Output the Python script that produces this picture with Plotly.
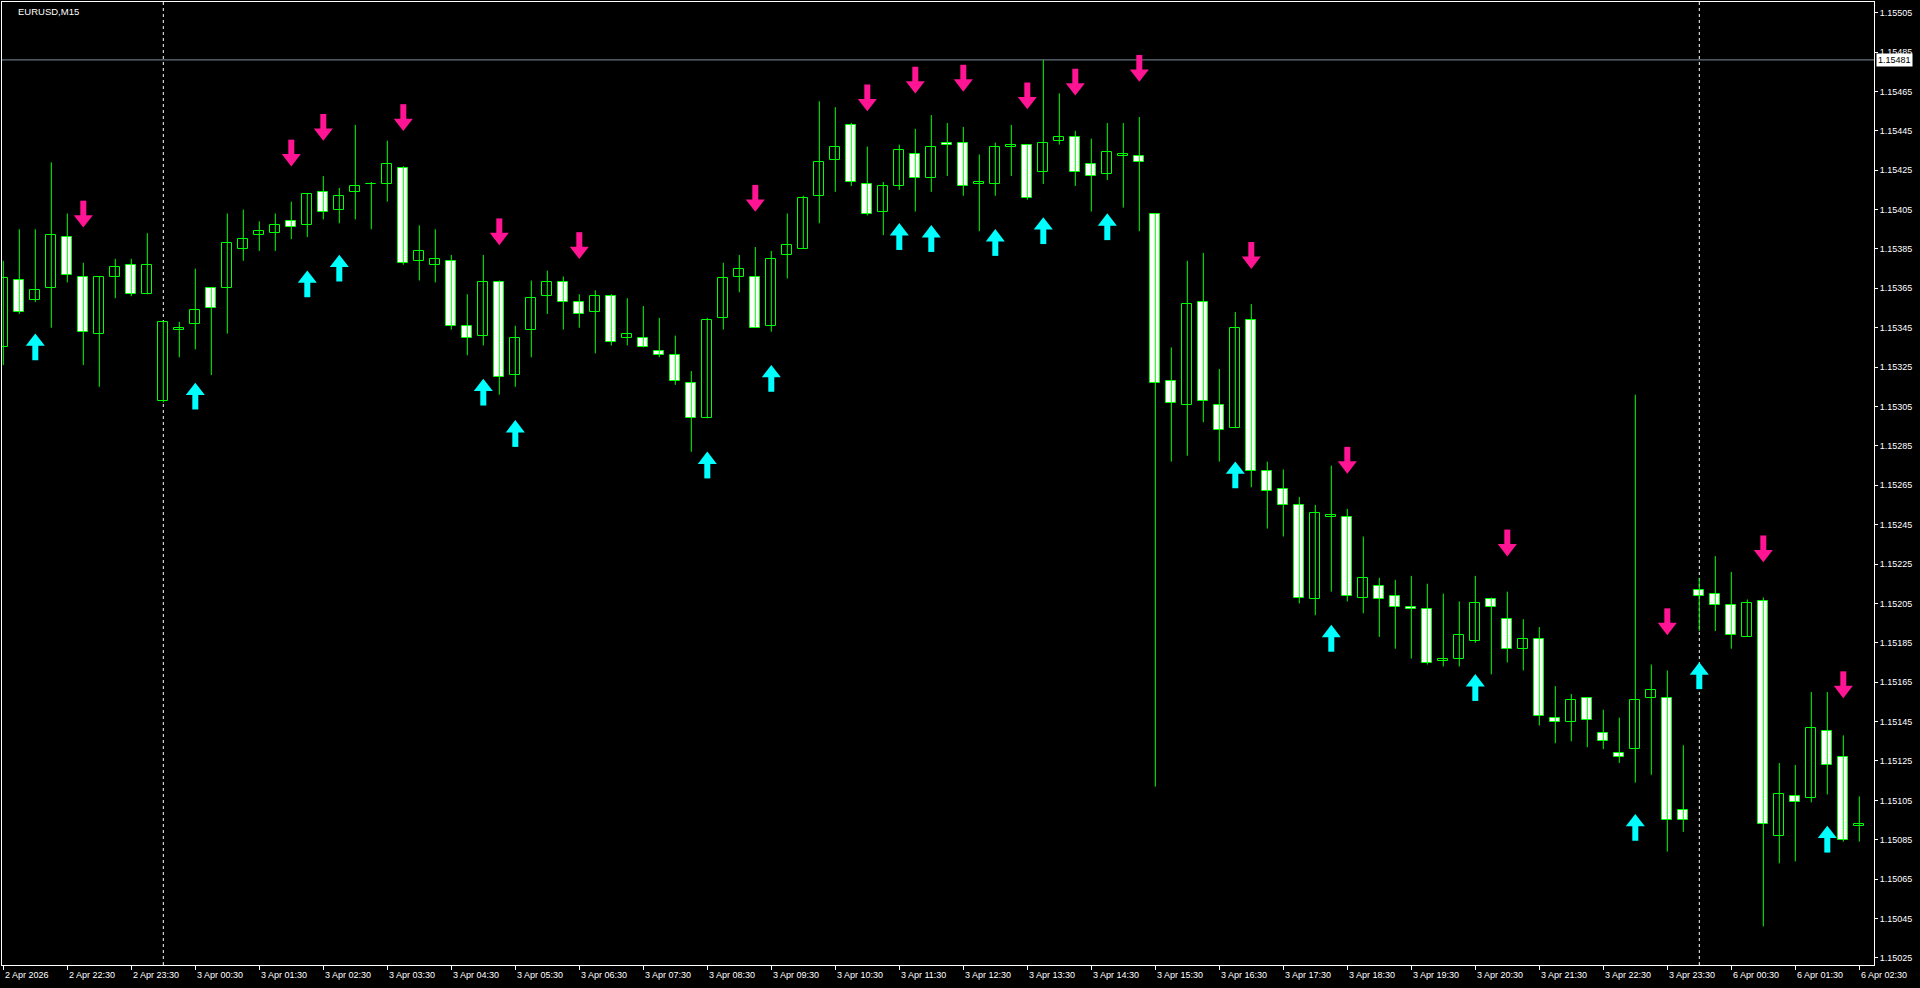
import pandas as pd
import plotly.graph_objects as go

symbol_title = "EURUSD,M15"

opens = [1.15335,1.15369,1.15359,1.15365,1.15391,1.15371,1.15342,1.15371,1.15377,1.15362,
         1.15308,1.15344,1.15347,1.15365,1.15365,1.15385,1.15392,1.15393,1.15399,1.15397,
         1.15414,1.15405,1.15414,1.15418,1.15418,1.15426,1.15379,1.15377,1.15379,1.15346,
         1.15341,1.15368,1.15321,1.15344,1.15361,1.15368,1.15358,1.15353,1.15361,1.15340,
         1.15340,1.15333,1.15331,1.15317,1.15299,1.15350,1.15371,1.15371,1.15346,1.15382,
         1.15385,1.15412,1.15430,1.15448,1.15418,1.15404,1.15417,1.15433,1.15421,1.15439,
         1.15439,1.15418,1.15418,1.15437,1.15438,1.15424,1.15440,1.15442,1.15428,1.15423,
         1.15432,1.15432,1.15403,1.15318,1.15306,1.15358,1.15306,1.15294,1.15349,1.15272,
         1.15263,1.15255,1.15207,1.15249,1.15249,1.15208,1.15214,1.15209,1.15203,1.15202,
         1.15176,1.15177,1.15186,1.15207,1.15197,1.15182,1.15187,1.15147,1.15145,1.15157,
         1.15139,1.15129,1.15131,1.15157,1.15157,1.15100,1.15212,1.15210,1.15204,1.15188,
         1.15206,1.15087,1.15107,1.15106,1.15140,1.15127,1.15092]
highs = [1.15379,1.15395,1.15395,1.15429,1.15403,1.15378,1.15371,1.15380,1.15380,1.15393,
         1.15348,1.15348,1.15375,1.15365,1.15403,1.15405,1.15399,1.15403,1.15409,1.15413,
         1.15422,1.15416,1.15448,1.15419,1.15440,1.15427,1.15397,1.15395,1.15382,1.15362,
         1.15382,1.15369,1.15346,1.15369,1.15374,1.15371,1.15362,1.15364,1.15362,1.15360,
         1.15356,1.15350,1.15341,1.15323,1.15350,1.15378,1.15382,1.15386,1.15384,1.15403,
         1.15412,1.15460,1.15457,1.15449,1.15437,1.15419,1.15438,1.15446,1.15453,1.15449,
         1.15447,1.15433,1.15439,1.15448,1.15438,1.15481,1.15464,1.15445,1.15441,1.15449,
         1.15449,1.15452,1.15403,1.15335,1.15379,1.15383,1.15324,1.15353,1.15357,1.15277,
         1.15273,1.15259,1.15255,1.15275,1.15253,1.15239,1.15218,1.15217,1.15219,1.15215,
         1.15210,1.15206,1.15219,1.15208,1.15211,1.15197,1.15193,1.15163,1.15159,1.15157,
         1.15151,1.15147,1.15311,1.15174,1.15171,1.15133,1.15218,1.15229,1.15221,1.15207,
         1.15208,1.15124,1.15123,1.15160,1.15160,1.15138,1.15107]
lows = [1.15326,1.15352,1.15358,1.15345,1.15368,1.15326,1.15315,1.15360,1.15361,1.15362,
        1.15307,1.15330,1.15334,1.15321,1.15342,1.15379,1.15384,1.15384,1.15390,1.15391,
        1.15400,1.15398,1.15400,1.15395,1.15409,1.15377,1.15369,1.15368,1.15344,1.15331,
        1.15336,1.15311,1.15315,1.15330,1.15352,1.15344,1.15345,1.15332,1.15336,1.15336,
        1.15335,1.15330,1.15316,1.15282,1.15299,1.15344,1.15363,1.15345,1.15343,1.15370,
        1.15385,1.15398,1.15414,1.15417,1.15402,1.15392,1.15415,1.15404,1.15414,1.15422,
        1.15412,1.15394,1.15412,1.15422,1.15410,1.15418,1.15438,1.15417,1.15404,1.15420,
        1.15406,1.15394,1.15112,1.15277,1.15280,1.15297,1.15277,1.15294,1.15264,1.15243,
        1.15239,1.15205,1.15199,1.15211,1.15206,1.15200,1.15188,1.15182,1.15177,1.15174,
        1.15173,1.15173,1.15185,1.15169,1.15175,1.15171,1.15143,1.15134,1.15135,1.15132,
        1.15131,1.15124,1.15114,1.15118,1.15079,1.15089,1.15191,1.15191,1.15182,1.15188,
        1.15041,1.15073,1.15074,1.15104,1.15108,1.15084,1.15084]
closes = [1.15370,1.15353,1.15364,1.15392,1.15372,1.15343,1.15371,1.15376,1.15362,1.15377,
          1.15348,1.15345,1.15354,1.15355,1.15388,1.15390,1.15394,1.15397,1.15396,1.15413,
          1.15404,1.15412,1.15417,1.15418,1.15428,1.15378,1.15384,1.15380,1.15346,1.15340,
          1.15368,1.15320,1.15340,1.15360,1.15368,1.15358,1.15352,1.15361,1.15338,1.15342,
          1.15335,1.15331,1.15318,1.15299,1.15349,1.15370,1.15375,1.15345,1.15380,1.15387,
          1.15411,1.15429,1.15437,1.15419,1.15403,1.15417,1.15435,1.15421,1.15437,1.15438,
          1.15417,1.15419,1.15437,1.15438,1.15411,1.15439,1.15442,1.15424,1.15422,1.15434,
          1.15433,1.15429,1.15317,1.15307,1.15357,1.15308,1.15293,1.15345,1.15272,1.15262,
          1.15255,1.15208,1.15251,1.15250,1.15209,1.15218,1.15207,1.15203,1.15202,1.15175,
          1.15177,1.15189,1.15205,1.15203,1.15182,1.15187,1.15148,1.15145,1.15156,1.15146,
          1.15135,1.15127,1.15156,1.15161,1.15095,1.15095,1.15209,1.15204,1.15189,1.15205,
          1.15093,1.15108,1.15104,1.15142,1.15123,1.15085,1.15093]

# signal arrows (bar index, price level of the arrow centre)
up_bars = [2, 12, 19, 21, 30, 32, 44, 48, 56, 58, 62, 65, 69, 77, 83, 92, 102, 106, 114]
up_prices = [1.15336, 1.15311, 1.15368, 1.15376, 1.15313, 1.15292, 1.15276, 1.15320, 1.15392,
             1.15391, 1.15389, 1.15395, 1.15397, 1.15271, 1.15188, 1.15163, 1.15092, 1.15169, 1.15086]
down_bars = [5, 18, 20, 25, 31, 36, 47, 54, 57, 60, 64, 67, 71, 78, 84, 94, 104, 110, 115]
down_prices = [1.15402, 1.15433, 1.15446, 1.15451, 1.15393, 1.15386, 1.15410, 1.15461, 1.15470,
               1.15471, 1.15462, 1.15469, 1.15476, 1.15381, 1.15277, 1.15235, 1.15195, 1.15232, 1.15163]

hline_price = 1.15481

price_ticks = [1.15505, 1.15485, 1.15465, 1.15445, 1.15425, 1.15405, 1.15385, 1.15365, 1.15345,
               1.15325, 1.15305, 1.15285, 1.15265, 1.15245, 1.15225, 1.15205, 1.15185, 1.15165,
               1.15145, 1.15125, 1.15105, 1.15085, 1.15065, 1.15045, 1.15025]

time_labels = ["2 Apr 2026", "2 Apr 22:30", "2 Apr 23:30",
               "3 Apr 00:30", "3 Apr 01:30", "3 Apr 02:30", "3 Apr 03:30", "3 Apr 04:30", "3 Apr 05:30",
               "3 Apr 06:30", "3 Apr 07:30", "3 Apr 08:30", "3 Apr 09:30", "3 Apr 10:30", "3 Apr 11:30",
               "3 Apr 12:30", "3 Apr 13:30", "3 Apr 14:30", "3 Apr 15:30", "3 Apr 16:30", "3 Apr 17:30",
               "3 Apr 18:30", "3 Apr 19:30", "3 Apr 20:30", "3 Apr 21:30", "3 Apr 22:30", "3 Apr 23:30",
               "6 Apr 00:30", "6 Apr 01:30", "6 Apr 02:30"]

# M15 bar times (weekend gap removed)
bar_times = list(pd.date_range("2026-04-02 21:30", "2026-04-03 23:45", freq="15min")) + \
            list(pd.date_range("2026-04-06 00:00", "2026-04-06 02:30", freq="15min"))
cats = [t.strftime("%Y-%m-%d %H:%M") for t in bar_times]
short = {f"{t.day} {t.strftime('%b %H:%M')}": c for t, c in zip(bar_times, cats)}
tick_cats = [cats[0]] + [short[l] for l in time_labels[1:]]
day_starts = [cats[i] for i in range(1, len(cats)) if bar_times[i].date() != bar_times[i - 1].date()]

GREEN = "#00FF00"
CYAN = "#00FFFF"
PINK = "#FF1493"

W, H = 1920, 988
M = dict(l=2, r=46, t=2, b=23)
Y_RANGE = [1.150214, 1.155104]
px_per_price = (H - M["t"] - M["b"]) / (Y_RANGE[1] - Y_RANGE[0])

# wicks
wx, wy = [], []
for c, h, l in zip(cats, highs, lows):
    wx += [c, c, None]
    wy += [h, l, None]

fig = go.Figure()
fig.add_trace(go.Scatter(x=wx, y=wy, mode="lines", line=dict(color=GREEN, width=1),
                         hoverinfo="skip", showlegend=False))
base = [min(o, c) for o, c in zip(opens, closes)]
height = [abs(c - o) for o, c in zip(opens, closes)]
fills = ["#000000" if c >= o else "#FFFFFF" for o, c in zip(opens, closes)]
fig.add_trace(go.Bar(x=cats, y=height, base=base, width=0.62,
                     marker=dict(color=fills, line=dict(color=GREEN, width=1)),
                     showlegend=False, hoverinfo="skip"))

# arrows: head (triangle) + shaft (thick line marker)
head_off = 3.8 / px_per_price
shaft_off = 5.0 / px_per_price
ux = [cats[i] for i in up_bars]
dx = [cats[i] for i in down_bars]
fig.add_trace(go.Scatter(x=ux, y=[p - shaft_off for p in up_prices], mode="markers",
                         marker=dict(symbol="line-ns", size=14, line=dict(color=CYAN, width=6)),
                         showlegend=False, hoverinfo="skip"))
fig.add_trace(go.Scatter(x=ux, y=[p + head_off for p in up_prices], mode="markers",
                         marker=dict(symbol="triangle-up", size=16.5, color=CYAN, line=dict(width=0)),
                         showlegend=False, hoverinfo="skip"))
fig.add_trace(go.Scatter(x=dx, y=[p + shaft_off for p in down_prices], mode="markers",
                         marker=dict(symbol="line-ns", size=14, line=dict(color=PINK, width=6)),
                         showlegend=False, hoverinfo="skip"))
fig.add_trace(go.Scatter(x=dx, y=[p - head_off for p in down_prices], mode="markers",
                         marker=dict(symbol="triangle-down", size=16.5, color=PINK, line=dict(width=0)),
                         showlegend=False, hoverinfo="skip"))

shapes = []
for d in day_starts:
    shapes.append(dict(type="line", xref="x", yref="paper", x0=d, x1=d, y0=0, y1=1,
                       line=dict(color="#FFFFFF", width=1, dash="3px,3px"), layer="below"))
shapes.append(dict(type="line", xref="paper", yref="y", x0=0, x1=1, y0=hline_price, y1=hline_price,
                   line=dict(color="#7E8C9E", width=1), layer="below"))

annotations = [dict(xref="paper", yref="paper", x=0, y=1, xanchor="left", yanchor="top",
                    xshift=14, yshift=-2, text=symbol_title, showarrow=False,
                    font=dict(color="#FFFFFF", size=9.5, family="Liberation Sans"))]
for c, lab in zip(tick_cats, time_labels):
    annotations.append(dict(xref="x", yref="paper", x=c, y=0, xanchor="left", yanchor="top",
                            xshift=0, yshift=-3, text=lab, showarrow=False,
                            font=dict(color="#FFFFFF", size=9, family="Liberation Sans")))
annotations.append(dict(xref="paper", yref="y", x=1, y=hline_price, xanchor="left", yanchor="middle",
                        xshift=2, text=f"{hline_price:.5f}", showarrow=False, bgcolor="#FFFFFF",
                        borderpad=1, font=dict(color="#000000", size=9, family="Liberation Sans")))

fig.update_layout(
    width=W, height=H,
    margin=M,
    paper_bgcolor="#000000", plot_bgcolor="#000000",
    showlegend=False, bargap=0,
    shapes=shapes, annotations=annotations,
    xaxis=dict(type="category", categoryorder="array", categoryarray=cats,
               range=[-0.081, 116.919], showgrid=False, zeroline=False,
               showline=True, mirror=True, linecolor="#FFFFFF", linewidth=1,
               ticks="outside", ticklen=4, tickcolor="#FFFFFF", tickvals=tick_cats,
               showticklabels=False, fixedrange=True),
    yaxis=dict(side="right", range=Y_RANGE, showgrid=False, zeroline=False,
               showline=True, mirror=True, linecolor="#FFFFFF", linewidth=1,
               ticks="outside", ticklen=3, tickcolor="#FFFFFF", tickvals=price_ticks,
               tickformat=".5f", tickfont=dict(color="#FFFFFF", size=9, family="Liberation Sans"),
               fixedrange=True),
)

fig.write_html("out.html", config={"displayModeBar": False},
               post_script="document.body.style.margin='0';document.body.style.background='#000';document.body.style.overflow='hidden';")
